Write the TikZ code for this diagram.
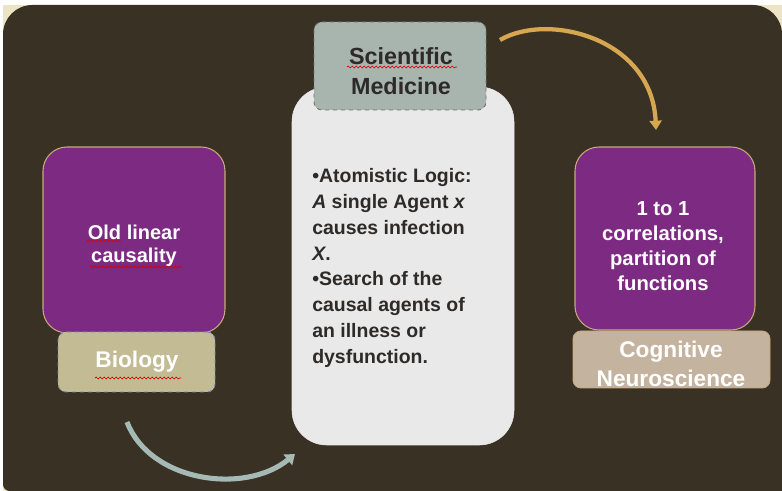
\documentclass[tikz,border=0pt]{standalone}
\usepackage{fontspec}
\setmainfont{Liberation Sans}
\usetikzlibrary{arrows.meta,decorations.pathmorphing}
\definecolor{bgdark}{RGB}{58,49,37}
\definecolor{cream}{RGB}{237,228,197}
\definecolor{purplefill}{RGB}{125,42,130}
\definecolor{purpleedge}{RGB}{196,170,120}
\definecolor{biofill}{RGB}{195,187,148}
\definecolor{bioedge}{RGB}{120,135,170}
\definecolor{cogfill}{RGB}{196,180,159}
\definecolor{scifill}{RGB}{168,180,174}
\definecolor{sciedge}{RGB}{110,118,114}
\definecolor{whitebox}{RGB}{233,233,233}
\definecolor{goldarrow}{RGB}{214,166,80}
\definecolor{grayarrow}{RGB}{166,186,181}
\definecolor{darktext}{RGB}{45,42,40}
\begin{document}
\begin{tikzpicture}[x=0.75pt,y=-0.75pt,
  purplebox/.style={draw=purpleedge, line width=0.8pt, fill=purplefill, rounded corners=18pt, inner sep=0pt},
  tagbox/.style={line width=0.7pt, rounded corners=6pt, inner sep=0pt},
  whitetxt/.style={text=white, align=center, inner sep=0pt},
  squig/.style={draw=red!85!black, line width=0.5pt, decorate, decoration={snake, amplitude=0.7pt, segment length=3pt}},
  arc/.style={line width=3.2pt}
]
\useasboundingbox (0,0) rectangle (782,491);
% background
\fill[white] (0,0) rectangle (782,491);
\fill[cream] (3,5) rectangle (782,491);
\fill[bgdark, rounded corners=22pt] (3,5) rectangle (782,491);
\fill[bgdark, rounded corners=5pt] (3,300) rectangle (500,491);
\fill[bgdark] (400,200) rectangle (782,491);

% left
\node[purplebox, minimum width=136.5pt, minimum height=139.5pt] (oldbox) at (134,240) {};
\node[tagbox, draw=bioedge, dashed, fill=biofill, minimum width=117.75pt, minimum height=45pt] (bio) at (136.5,362) {};
\node[whitetxt, font=\fontsize{15}{17.5}\selectfont\bfseries] (oldtxt) at (134,246) {Old linear\\causality};
\node[whitetxt, font=\fontsize{17}{20}\selectfont\bfseries] (biotxt) at (137,362) {Biology};

% centre
\node[draw=whitebox, fill=whitebox, rounded corners=26pt, minimum width=166.5pt, minimum height=268.5pt, inner sep=0pt] (mid) at (403,266) {};
\node[tagbox, draw=sciedge, dashed, fill=scifill, minimum width=129pt, minimum height=66pt] (sci) at (400,66) {};
\node[text=darktext, align=center, inner sep=0pt, font=\fontsize{17.5}{23}\selectfont\bfseries] (scitxt) at (401,71) {Scientific\\Medicine};
\node[text=darktext, align=left, inner sep=0pt, anchor=west, font=\fontsize{14.6}{19.3}\selectfont\bfseries] (midtxt) at (312,268)
 {•Atomistic Logic:\\\textit{A} single Agent \textit{x}\\causes infection\\\textit{X}.\\•Search of the\\causal agents of\\an illness or\\dysfunction.};

% right
\node[purplebox, minimum width=135pt, minimum height=137.25pt] (corrbox) at (665,238.5) {};
\node[tagbox, draw=purpleedge, fill=cogfill, minimum width=147.75pt, minimum height=42.75pt] (cog) at (671.5,359.5) {};
\node[whitetxt, font=\fontsize{15.2}{18.75}\selectfont\bfseries] (corrtxt) at (663,246) {1 to 1\\correlations,\\partition of\\functions};
\node[whitetxt, font=\fontsize{17}{21.75}\selectfont\bfseries] (cogtxt) at (671,364) {Cognitive\\Neuroscience};

% spell-check squiggles
\draw[squig] (347,67) -- (457,67);
\draw[squig] (87,241) -- (121,241);
\draw[squig] (90,267) -- (182,267);
\draw[squig] (95,378) -- (181,378);

% arrows
\coordinate (g1) at (500,40);
\coordinate (g2) at (656,130);
\draw[arc, goldarrow, -{Triangle[width=9pt,length=7pt]}] (g1) .. controls (548,12) and (652,38) .. (g2);
\coordinate (a1) at (127,422);
\coordinate (a2) at (295,454);
\draw[arc, grayarrow, line width=3.8pt, -{Triangle[width=10pt,length=7pt]}] (a1) .. controls (150,482) and (245,495) .. (a2);
\end{tikzpicture}
\end{document}
